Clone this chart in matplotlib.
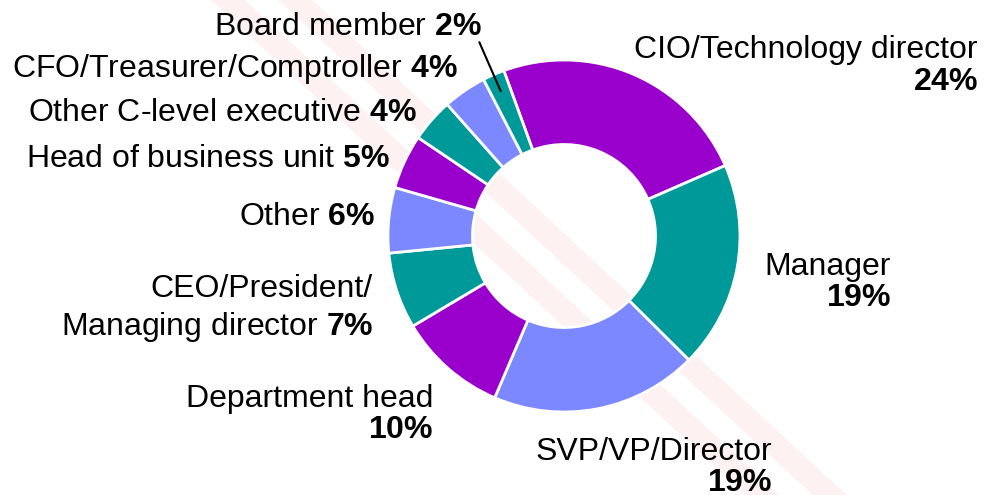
import numpy as np
import matplotlib
matplotlib.use('Agg')
import matplotlib.pyplot as plt
from matplotlib.patches import Polygon

# ---- data ----
categories = ["CIO/Technology director", "Manager", "SVP/VP/Director", "Department head",
              "CEO/President/\nManaging director", "Other", "Head of business unit",
              "Other C-level executive", "CFO/Treasurer/Comptroller", "Board member"]
values = [24, 19, 19, 10, 7, 6, 5, 4, 4, 2]
colors = ['#9900CC', '#009999', '#7B88FF', '#9900CC', '#009999',
          '#7B88FF', '#9900CC', '#009999', '#7B88FF', '#009999']

# ---- layout (pixel coords, y from top): right edge x, baselines, percent on own line ----
label_layout = [
    (978, [58, 90], True),
    (891, [275, 306], True),
    (772, [460, 491], True),
    (433, [407, 438], True),
    (373, [297, 335], False),
    (375, [225], False),
    (390, [167], False),
    (417, [121], False),
    (458, [77], False),
    (482, [35], False),
]

W, H = 995, 495
plt.rcParams['font.family'] = ['Liberation Sans', 'DejaVu Sans']
plt.rcParams['mathtext.fontset'] = 'custom'
plt.rcParams['mathtext.rm'] = 'Liberation Sans'
plt.rcParams['mathtext.bf'] = 'Liberation Sans:bold'

fig = plt.figure(figsize=(W / 100, H / 100), dpi=100)
ax = fig.add_axes([0, 0, 1, 1])

# faint diagonal watermark stripes
slope = 1.08
for x0, w in [(228, 34), (295, 34)]:
    pts = [(x0 - w / 2, 0), (x0 + w / 2, 0),
           (x0 + w / 2 + slope * H, H), (x0 - w / 2 + slope * H, H)]
    ax.add_patch(Polygon([(px, H - py) for px, py in pts], closed=True,
                         facecolor='#FDF1F1', edgecolor='none', zorder=0))

cx, cy, R = 564, H - 236, 176
wedges, _ = ax.pie(values, colors=colors, startangle=110, counterclock=False,
                   radius=R, center=(cx, cy), frame=False,
                   wedgeprops=dict(width=R * 0.48, edgecolor='white', linewidth=2))
for wdg in wedges:
    wdg.set_zorder(2)

ax.set_xlim(0, W)
ax.set_ylim(0, H)
ax.axis('off')

fs = 23
for cat, val, (x, ys, own_line) in zip(categories, values, label_layout):
    pct = r"$\mathbf{" + str(val) + r"\%}$"
    if own_line:
        ax.text(x, H - ys[0], cat, ha='right', va='baseline', fontsize=fs, color='black')
        ax.text(x, H - ys[1], pct, ha='right', va='baseline', fontsize=fs, color='black')
    else:
        lines = cat.split("\n")
        lines[-1] = lines[-1] + " " + pct
        for line, yb in zip(lines, ys):
            ax.text(x, H - yb, line, ha='right', va='baseline', fontsize=fs, color='black')

# leader line for the smallest slice
wb = wedges[-1]
mid = np.deg2rad((wb.theta1 + wb.theta2) / 2)
r0, r1 = 1.2 * R, 0.9 * R
ax.plot([cx + r0 * np.cos(mid), cx + r1 * np.cos(mid)],
        [cy + r0 * np.sin(mid), cy + r1 * np.sin(mid)], color='black', lw=1.5, zorder=3)

fig.savefig('out.png', dpi=100)
